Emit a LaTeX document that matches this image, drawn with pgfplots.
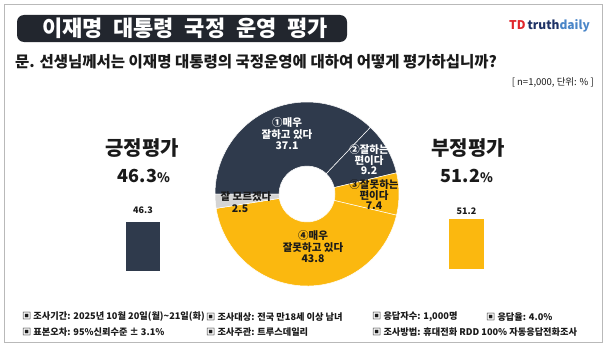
\documentclass[border=0pt]{standalone}
\usepackage{pgfplots}
\pgfplotsset{compat=1.18}
\usepackage{fontspec}
\setmainfont{Noto Sans CJK KR}
\definecolor{navy}{HTML}{2F3A4C}
\definecolor{gold}{HTML}{FBB80F}
\definecolor{unk}{HTML}{D4D4D4}
\definecolor{titlebg}{HTML}{22262E}
\definecolor{tdred}{HTML}{E0262B}
\definecolor{tdnavy}{HTML}{1E3266}
\definecolor{tdblue}{HTML}{4A86C8}
\definecolor{ink}{HTML}{1A1A1A}
\newcommand{\fs}[1]{\fontsize{#1}{#1}\selectfont}
\newcommand{\fsl}[2]{\fontsize{#1}{#2}\selectfont}

\begin{document}
\begin{tikzpicture}
\useasboundingbox (0pt,0pt) rectangle (607pt,349pt);
\fill[white] (0pt,0pt) rectangle (607pt,349pt);
\draw[gray!55, line width=1pt] (4pt,7pt) rectangle (602pt,344pt);
\fill[titlebg, rounded corners=7pt] (17pt,307pt) rectangle (347pt,334pt);

% main axis: 1 unit = 1pt, y measured downward like the reference image
\begin{axis}[at={(0pt,0pt)}, anchor=south west, scale only axis,
  width=607pt, height=349pt, xmin=0, xmax=607, ymin=0, ymax=349,
  y dir=reverse, hide axis, clip=false]
% donut: values in percent, drawn clockwise
\xdef\astart{180}
\foreach \v/\c in {37.1/navy,9.2/navy,7.4/gold,43.8/gold,2.5/unk}{
  \pgfmathsetmacro\aend{\astart-3.6*\v}
  \edef\temp{\noexpand\fill[\c, draw=white, line width=0.5pt]
    ([shift={(\astart:92pt)}]axis cs:307,194)
    arc[start angle=\astart, end angle=\aend, radius=92pt]
    -- ([shift={(\aend:28pt)}]axis cs:307,194)
    arc[start angle=\aend, end angle=\astart, radius=28pt] -- cycle;}
  \temp
  \xdef\astart{\aend}
}
% title and header
\node[text=white, font=\bfseries\fs{22}, inner sep=0] at (axis cs:185,28.5)
  {\makebox[286pt][s]{이재명 대통령 국정 운영 평가}};
\node[anchor=east, inner sep=0, font=\bfseries\fs{12}] at (axis cs:590,26)
  {\textcolor{tdred}{TD}\,\textcolor{tdnavy}{truth}\textcolor{tdblue}{daily}};
\node[anchor=west, inner sep=0, text=ink, font=\bfseries\fs{15.5}] at (axis cs:15,62)
  {문. 선생님께서는 이재명 대통령의 국정운영에 대하여 어떻게 평가하십니까?};
\node[anchor=east, inner sep=0, text=ink, font=\fs{9.5}] at (axis cs:594,82)
  {[ n=1,000, 단위: \% ]};
% big labels
\node[text=ink, font=\bfseries\fs{20}] at (axis cs:142,148) {긍정평가};
\node[text=ink, font=\bfseries\fs{18}] at (axis cs:144,176) {46.3{\fs{13}\%}};
\node[text=ink, font=\bfseries\fs{20}] at (axis cs:468,148) {부정평가};
\node[text=ink, font=\bfseries\fs{18}] at (axis cs:467,176) {51.2{\fs{13}\%}};
% donut labels
\node[text=white, align=center, font=\bfseries\fsl{10.5}{11.5}] at (axis cs:287,134)
  {①매우\\잘하고 있다\\37.1};
\node[text=white, align=center, font=\bfseries\fsl{10.5}{10.5}] at (axis cs:369,160)
  {②잘하는\\편이다\\9.2};
\node[text=ink, align=center, font=\bfseries\fsl{10.5}{10.5}] at (axis cs:374,195)
  {③잘못하는\\편이다\\7.4};
\node[text=ink, font=\bfseries\fs{10.5}] at (axis cs:246,197) {잘 모르겠다};
\node[text=ink, font=\bfseries\fs{10.5}] at (axis cs:240,208.5) {2.5};
\node[text=ink, align=center, font=\bfseries\fsl{10.5}{11.5}] at (axis cs:313,247)
  {④매우\\잘못하고 있다\\43.8};
% footer
\begin{scope}[every node/.style={anchor=west, inner sep=0, text=ink, font=\bfseries\fs{9.2}}]
\node at (axis cs:22,317) {▣ 조사기간: 2025년 10월 20일(월)\textasciitilde21일(화)};
\node at (axis cs:206,317) {▣ 조사대상: 전국 만18세 이상 남녀};
\node at (axis cs:372,317) {▣ 응답자수: 1,000명};
\node at (axis cs:486,317) {▣ 응답율: 4.0\%};
\node at (axis cs:22,332) {▣ 표본오차: 95\%신뢰수준 ± 3.1\%};
\node at (axis cs:206,332) {▣ 조사주관: 트루스데일리};
\node at (axis cs:372,332) {▣ 조사방법: 휴대전화 RDD 100\% 자동응답전화조사};
\end{scope}
\end{axis}

% positive bar
\begin{axis}[at={(126pt,78pt)}, anchor=south west, scale only axis,
  width=34pt, height=49pt, xmin=-0.5, xmax=0.5, ymin=0, ymax=46.3,
  hide axis, clip=false, ybar, bar width=34pt,
  nodes near coords,
  every node near coord/.append style={font=\bfseries\fs{9}, text=ink, yshift=4.5pt},
  /pgf/number format/assume math mode=true,
  /pgf/number format/fixed, /pgf/number format/precision=1]
\addplot[fill=navy, draw=none] coordinates {(0,46.3)};
\end{axis}

% negative bar
\begin{axis}[at={(449pt,80pt)}, anchor=south west, scale only axis,
  width=35pt, height=50pt, xmin=-0.5, xmax=0.5, ymin=0, ymax=51.2,
  hide axis, clip=false, ybar, bar width=35pt,
  nodes near coords,
  every node near coord/.append style={font=\bfseries\fs{9}, text=ink, yshift=0.8pt},
  /pgf/number format/assume math mode=true,
  /pgf/number format/fixed, /pgf/number format/precision=1]
\addplot[fill=gold, draw=none] coordinates {(0,51.2)};
\end{axis}
\end{tikzpicture}
\end{document}
